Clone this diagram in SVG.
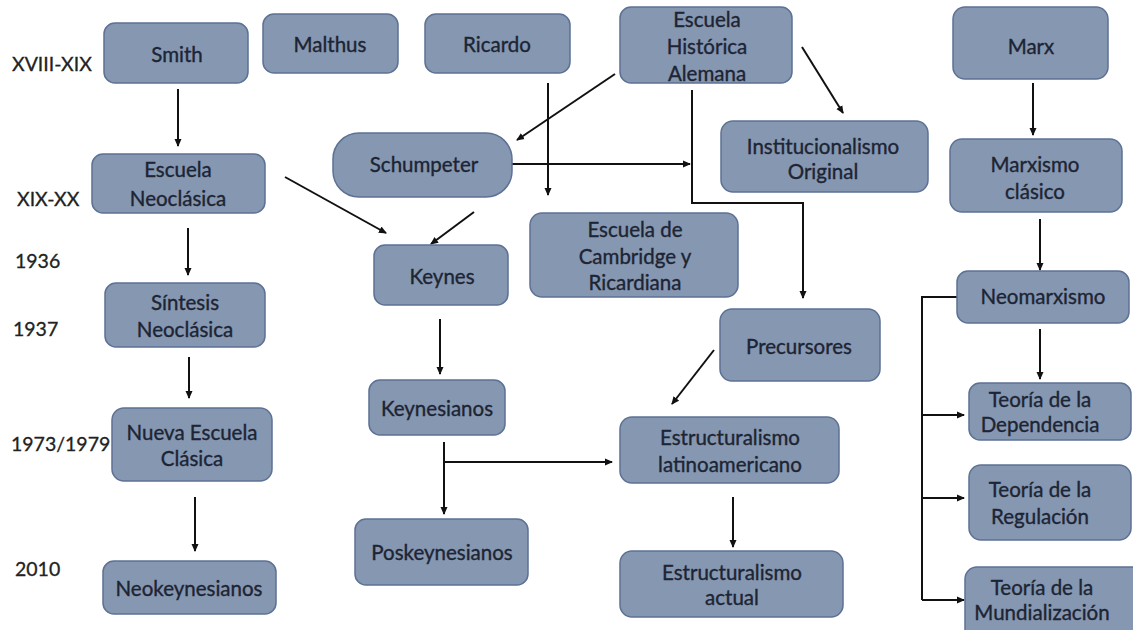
<svg xmlns="http://www.w3.org/2000/svg" width="1133" height="630" viewBox="0 0 1133 630">
<style>
.box{fill:#8597b1;stroke:#5d7194;stroke-width:1.5}
.t{font-family:Lato,"Open Sans","Liberation Sans",sans-serif;font-size:20.5px;fill:#1d2433;stroke:#1d2433;stroke-width:0.35;text-anchor:middle}
.lbl{font-family:Lato,"Open Sans","Liberation Sans",sans-serif;font-size:19.5px;fill:#222;stroke:#222;stroke-width:0.3}
.c{fill:none;stroke:#111;stroke-width:2}
</style>
<defs>
<marker id="ah" markerWidth="8" markerHeight="8" refX="7" refY="4" orient="auto" markerUnits="userSpaceOnUse">
<path d="M0,0.5 L8,4 L0,7.5 z" fill="#111"/>
</marker>
</defs>
<rect width="1133" height="630" fill="#fff"/>
<g id="labels">
<text class="lbl" x="12" y="71">XVIII-XIX</text>
<text class="lbl" x="17" y="206">XIX-XX</text>
<text class="lbl" x="15" y="268">1936</text>
<text class="lbl" x="13" y="336">1937</text>
<text class="lbl" x="11" y="451">1973/1979</text>
<text class="lbl" x="15" y="576">2010</text>
</g>
<g id="connectors">
<line class="c" x1="178" y1="89" x2="178" y2="146" marker-end="url(#ah)"/>
<line class="c" x1="188" y1="228" x2="188" y2="275" marker-end="url(#ah)"/>
<line class="c" x1="189" y1="357" x2="189" y2="398" marker-end="url(#ah)"/>
<line class="c" x1="195" y1="497" x2="195" y2="551" marker-end="url(#ah)"/>
<line class="c" x1="285" y1="177" x2="386" y2="233" marker-end="url(#ah)"/>
<line class="c" x1="615" y1="74" x2="517" y2="140" marker-end="url(#ah)"/>
<line class="c" x1="548" y1="83" x2="548" y2="195" marker-end="url(#ah)"/>
<line class="c" x1="512" y1="164" x2="690" y2="164" marker-end="url(#ah)"/>
<polyline class="c" points="692,90 692,203 803,203 803,298" marker-end="url(#ah)"/>
<line class="c" x1="802" y1="47" x2="843" y2="113" marker-end="url(#ah)"/>
<line class="c" x1="474" y1="212" x2="431" y2="244" marker-end="url(#ah)"/>
<line class="c" x1="440" y1="319" x2="440" y2="374" marker-end="url(#ah)"/>
<line class="c" x1="444" y1="442" x2="444" y2="514" marker-end="url(#ah)"/>
<line class="c" x1="444" y1="462" x2="612" y2="462" marker-end="url(#ah)"/>
<line class="c" x1="714" y1="350" x2="672" y2="404" marker-end="url(#ah)"/>
<line class="c" x1="733" y1="497" x2="733" y2="547" marker-end="url(#ah)"/>
<line class="c" x1="1033" y1="83" x2="1033" y2="135" marker-end="url(#ah)"/>
<line class="c" x1="1040" y1="219" x2="1040" y2="270" marker-end="url(#ah)"/>
<line class="c" x1="1040" y1="329" x2="1040" y2="379" marker-end="url(#ah)"/>
<polyline class="c" points="957,297 922,297 922,600"/>
<line class="c" x1="922" y1="415" x2="964" y2="415" marker-end="url(#ah)"/>
<line class="c" x1="922" y1="498" x2="964" y2="498" marker-end="url(#ah)"/>
<line class="c" x1="922" y1="600" x2="964" y2="600" marker-end="url(#ah)"/>
</g>
<g id="smith"><rect class="box" x="104" y="23" width="144" height="60" rx="11"/><text class="t" x="177" y="62">Smith</text></g>
<g id="malthus"><rect class="box" x="263" y="14" width="135" height="59" rx="11"/><text class="t" x="330" y="52">Malthus</text></g>
<g id="ricardo"><rect class="box" x="425" y="14" width="145" height="59" rx="11"/><text class="t" x="497" y="52">Ricardo</text></g>
<g id="historica"><rect class="box" x="620" y="7" width="172" height="76" rx="11"/><text class="t" x="707" y="27">Escuela</text><text class="t" x="707" y="54">Histórica</text><text class="t" x="707" y="81">Alemana</text></g>
<g id="marx"><rect class="box" x="953" y="7" width="155" height="72" rx="12"/><text class="t" x="1031" y="54">Marx</text></g>
<g id="neoclasica"><rect class="box" x="92" y="154" width="173" height="59" rx="11"/><text class="t" x="178" y="177">Escuela</text><text class="t" x="178" y="206">Neoclásica</text></g>
<g id="schumpeter"><rect class="box" x="333" y="133" width="179" height="64" rx="26"/><text class="t" x="424" y="172">Schumpeter</text></g>
<g id="institucionalismo"><rect class="box" x="721" y="121" width="207" height="71" rx="12"/><text class="t" x="823" y="154">Institucionalismo</text><text class="t" x="823" y="179">Original</text></g>
<g id="marxismo-clasico"><rect class="box" x="950" y="139" width="172" height="73" rx="12"/><text class="t" x="1035" y="172">Marxismo</text><text class="t" x="1035" y="199">clásico</text></g>
<g id="keynes"><rect class="box" x="374" y="245" width="134" height="60" rx="11"/><text class="t" x="442" y="284">Keynes</text></g>
<g id="cambridge"><rect class="box" x="530" y="213" width="208" height="84" rx="12"/><text class="t" x="635" y="237">Escuela de</text><text class="t" x="635" y="264">Cambridge y</text><text class="t" x="635" y="290">Ricardiana</text></g>
<g id="sintesis"><rect class="box" x="105" y="283" width="160" height="64" rx="11"/><text class="t" x="185" y="310">Síntesis</text><text class="t" x="185" y="337">Neoclásica</text></g>
<g id="precursores"><rect class="box" x="720" y="309" width="160" height="72" rx="12"/><text class="t" x="799" y="354">Precursores</text></g>
<g id="keynesianos"><rect class="box" x="369" y="380" width="136" height="55" rx="11"/><text class="t" x="437" y="416">Keynesianos</text></g>
<g id="nueva-clasica"><rect class="box" x="112" y="408" width="160" height="73" rx="12"/><text class="t" x="192" y="440">Nueva Escuela</text><text class="t" x="192" y="466">Clásica</text></g>
<g id="estructuralismo-lat"><rect class="box" x="620" y="417" width="219" height="66" rx="12"/><text class="t" x="730" y="445">Estructuralismo</text><text class="t" x="730" y="472">latinoamericano</text></g>
<g id="poskeynesianos"><rect class="box" x="355" y="519" width="173" height="66" rx="11"/><text class="t" x="442" y="560">Poskeynesianos</text></g>
<g id="estructuralismo-actual"><rect class="box" x="620" y="551" width="223" height="66" rx="12"/><text class="t" x="732" y="580">Estructuralismo</text><text class="t" x="732" y="605">actual</text></g>
<g id="neokeynesianos"><rect class="box" x="103" y="561" width="173" height="53" rx="11"/><text class="t" x="189" y="596">Neokeynesianos</text></g>
<g id="neomarxismo"><rect class="box" x="957" y="271" width="172" height="52" rx="11"/><text class="t" x="1043" y="304">Neomarxismo</text></g>
<g id="dependencia"><rect class="box" x="969" y="383" width="162" height="57" rx="11"/><text class="t" x="1040" y="407">Teoría de la</text><text class="t" x="1040" y="432">Dependencia</text></g>
<g id="regulacion"><rect class="box" x="969" y="465" width="162" height="75" rx="12"/><text class="t" x="1040" y="497">Teoría de la</text><text class="t" x="1040" y="524">Regulación</text></g>
<g id="mundializacion"><rect class="box" x="965" y="567" width="180" height="75" rx="12"/><text class="t" x="1042" y="595">Teoría de la</text><text class="t" x="1042" y="620">Mundialización</text></g>
</svg>
